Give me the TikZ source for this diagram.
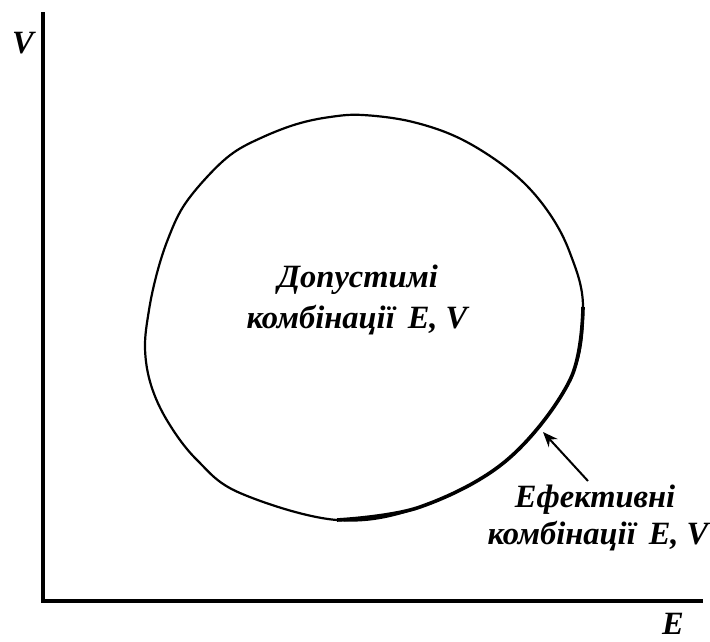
\documentclass[tikz,border=0pt]{standalone}
\usepackage{fontspec}
\setmainfont{Liberation Serif}
\usetikzlibrary{arrows.meta,positioning}

\tikzset{
  lbl/.style={font=\fontsize{32.5}{39}\selectfont\bfseries\itshape, inner sep=0pt, anchor=base},
  axis/.style={line width=3.6pt},
  region/.style={line width=2.2pt},
  frontier/.style={line width=3.6pt}
}

\begin{document}
\begin{tikzpicture}[x=1pt,y=-1pt]
  \useasboundingbox (0,0) rectangle (710,641);
  % Define points
  \coordinate (O) at (43,601);
  \coordinate (Vtop) at (43,12);
  \coordinate (Eend) at (703,601);

  % Draw axes
  \draw[axis] (Vtop) -- (O) -- (Eend);
  \node[lbl] (Vlab) at (23,53) {V};
  \node[lbl] (Elab) at (673,634) {E};

  % Feasible region
  \draw[region] plot[smooth cycle, tension=0.6] coordinates {
    (145,348) (149,310) (157,273) (168,239) (183,207) (207,177) (233,153)
    (263,137) (297,124) (330,117) (363,115) (413,122) (463,140) (513,173)
    (547,210) (570,253) (583,307) (570,380) (507,460) (420,507) (337,520)
    (240,493) (197,460) (168,422) (151,385)};
  % Efficient part
  \draw[frontier] plot[smooth, tension=0.6] coordinates {
    (583,307) (570,380) (507,460) (420,507) (337,520)};

  % Label points
  \node[lbl] (adm1) at (358,287) {Допустимі};
  \node[lbl] (adm2) at (357,328) {комбінації\hspace{0.4em}E, V};
  \node[lbl] (eff1) at (595,507) {Ефективні};
  \node[lbl] (eff2) at (598,544) {комбінації\hspace{0.4em}E, V};

  \coordinate (tail) at (588,481);
  \coordinate (F) at (543,432);
  \draw[line width=2pt, -{Stealth[length=15pt,width=12pt]}] (tail) -- (F);
\end{tikzpicture}
\end{document}
